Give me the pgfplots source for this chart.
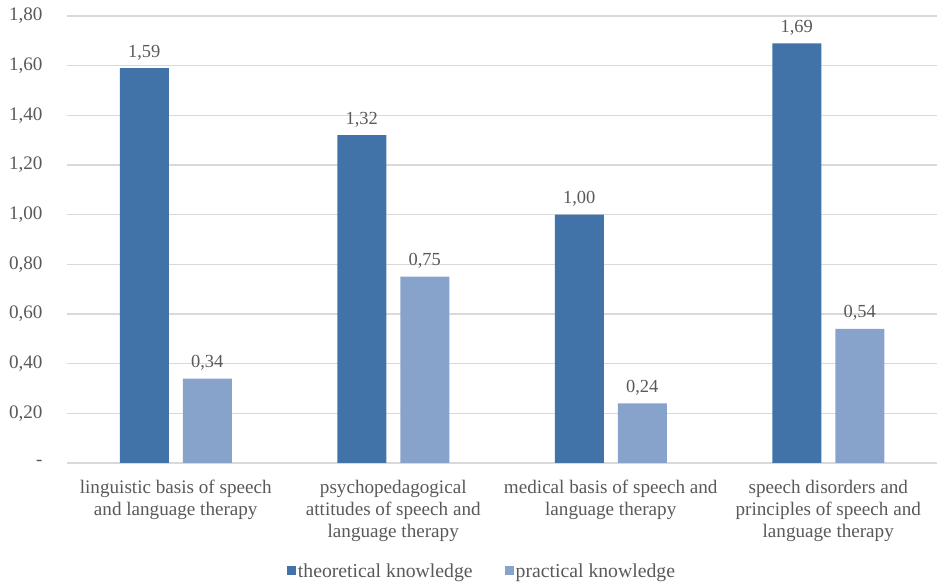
\documentclass[border=0pt]{standalone}
\usepackage{pgfplots}
\pgfplotsset{compat=1.18}
\usepackage{fontspec}
\setmainfont{Liberation Serif}
\definecolor{darkb}{HTML}{4273A8}
\definecolor{lightb}{HTML}{88A3CB}
\definecolor{txt}{HTML}{595959}
\definecolor{grd}{HTML}{D9D9D9}
\begin{document}
\begin{tikzpicture}
\path[use as bounding box] (0,0) rectangle (938bp,582bp);
\begin{axis}[
  at={(67bp,119bp)}, anchor=south west,
  scale only axis, width=870bp, height=447bp,
  ymin=0, ymax=1.8, xmin=-0.5, xmax=3.5,
  ytick={0,0.2,...,1.8},
  yticklabels={-\hspace{11bp},{0,20},{0,40},{0,60},{0,80},{1,00},{1,20},{1,40},{1,60},{1,80}},
  xtick={0,1,2,3},
  xticklabels={{linguistic basis of speech\\and language therapy},
               {psychopedagogical\\attitudes of speech and\\language therapy},
               {medical basis of speech and\\language therapy},
               {speech disorders and\\principles of speech and\\language therapy}},
  ymajorgrids, grid style={grd, line width=1.3bp},
  axis line style={draw=none}, major tick length=0pt,
  tick label style={font=\fontsize{19.2}{22}\selectfont, text=txt},
  yticklabel style={xshift=-21bp},
  xticklabel style={align=center, anchor=north, yshift=-14bp},
  ybar=14bp, bar width=49bp,
  nodes near coords,
  /pgf/number format/.cd, fixed, precision=2, fixed zerofill, use comma, assume math mode=true,
  /pgfplots/.cd,
  every node near coord/.append style={font=\fontsize{18.5}{22}\selectfont, text=txt, anchor=base, yshift=11bp},
  legend style={at={(0.477,-0.2416)}, anchor=center, draw=none, fill=none,
    legend columns=2, font=\fontsize{19.8}{22}\selectfont, text=txt,
    /tikz/every even column/.append style={column sep=30bp},
    inner sep=0pt},
  legend image code/.code={\fill[#1] (0bp,-4.5bp) rectangle (9bp,4.5bp);},
]
\addplot[fill=darkb, draw=none] coordinates {(0,1.59) (1,1.32) (2,1.00) (3,1.69)};
\addplot[fill=lightb, draw=none] coordinates {(0,0.34) (1,0.75) (2,0.24) (3,0.54)};
\legend{theoretical knowledge, practical knowledge}
\end{axis}
\end{tikzpicture}
\end{document}
